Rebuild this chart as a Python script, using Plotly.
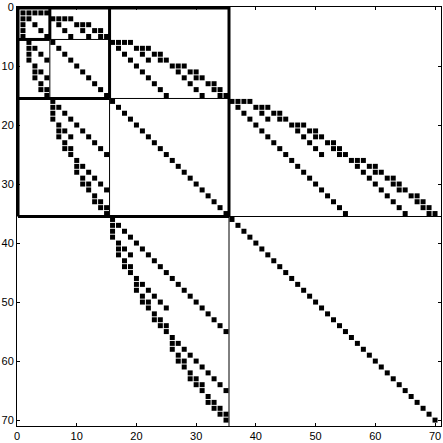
import plotly.graph_objects as go

# matrix order and diagonal entries (every diagonal entry is non-zero)
n = 70
diag_idx = list(range(1, n + 1))

# level boundaries (sizes 5, 10, 20, 35)
level_ends = [5, 15, 35, 70]

# upper off-diagonal couplings: row -> columns
couplings = {
    1: [2, 3, 4, 5],
    2: [6, 7, 8, 9],
    3: [7, 10, 11, 12],
    4: [8, 11, 13, 14],
    5: [9, 12, 14, 15],
    6: [16, 17, 18, 19],
    7: [17, 20, 21, 22],
    8: [18, 21, 23, 24],
    9: [19, 22, 24, 25],
    10: [20, 26, 27, 28],
    11: [21, 27, 29, 30],
    12: [22, 28, 30, 31],
    13: [23, 29, 32, 33],
    14: [24, 30, 33, 34],
    15: [25, 31, 34, 35],
    16: [36, 37, 38, 39],
    17: [37, 40, 41, 42],
    18: [38, 41, 43, 44],
    19: [39, 42, 44, 45],
    20: [40, 46, 47, 48],
    21: [41, 47, 49, 50],
    22: [42, 48, 50, 51],
    23: [43, 49, 52, 53],
    24: [44, 50, 53, 54],
    25: [45, 51, 54, 55],
    26: [46, 56, 57, 58],
    27: [47, 57, 59, 60],
    28: [48, 58, 60, 61],
    29: [49, 59, 62, 63],
    30: [50, 60, 63, 64],
    31: [51, 61, 64, 65],
    32: [52, 62, 66, 67],
    33: [53, 63, 67, 68],
    34: [54, 64, 68, 69],
    35: [55, 65, 69, 70],
}

tick_vals = [0, 10, 20, 30, 40, 50, 60, 70]

# collect the non-zero pattern (symmetric)
rows, cols = list(diag_idx), list(diag_idx)
for r, cs in couplings.items():
    for c in cs:
        rows += [r, c]
        cols += [c, r]

fig = go.Figure(go.Scatter(
    x=cols, y=rows,
    mode="markers",
    marker=dict(symbol="square", size=5, color="black", line=dict(width=0)),
    showlegend=False,
    hoverinfo="skip",
))

# block separators: thick box per nested level, thin divider to the next level
shapes = []
edge = 0.17
for k, e in enumerate(level_ends[:-1]):
    b = e + 0.5
    # thick box edges
    shapes.append(dict(type="line", x0=b, x1=b, y0=0, y1=b, line=dict(color="black", width=3)))
    shapes.append(dict(type="line", x0=edge, x1=b, y0=b, y1=b, line=dict(color="black", width=3)))
    # thin continuation down to next level boundary
    nb = level_ends[k + 1] + 0.5 if k + 1 < len(level_ends) - 1 else n + 1
    shapes.append(dict(type="line", x0=b, x1=b, y0=b, y1=nb, line=dict(color="black", width=1)))
    shapes.append(dict(type="line", x0=b, x1=nb, y0=b, y1=b, line=dict(color="black", width=1)))
outer = level_ends[2] + 0.5
shapes.append(dict(type="line", x0=edge, x1=edge, y0=0, y1=outer, line=dict(color="black", width=3)))
shapes.append(dict(type="line", x0=0, x1=outer, y0=edge, y1=edge, line=dict(color="black", width=3)))

axis_style = dict(
    showgrid=False, zeroline=False,
    showline=True, linecolor="black", linewidth=1, mirror="ticks",
    ticks="inside", ticklen=3, tickwidth=1, tickcolor="black",
    tickvals=tick_vals, ticklabeloverflow="allow",
    tickfont=dict(family="Liberation Sans, Arial, sans-serif", size=11, color="black"),
)

fig.update_layout(
    width=443, height=443, autosize=False,
    margin=dict(l=17, r=1, t=4, b=11),
    paper_bgcolor="white", plot_bgcolor="white",
    shapes=shapes,
    xaxis=dict(range=[0, n + 1], **axis_style),
    yaxis=dict(range=[n + 1, 0], **axis_style),
)

# drop the default page margin so the figure sits at the window corner
fig.write_html("out.html", config={"displayModeBar": False},
               post_script="document.body.style.margin='0px';")
